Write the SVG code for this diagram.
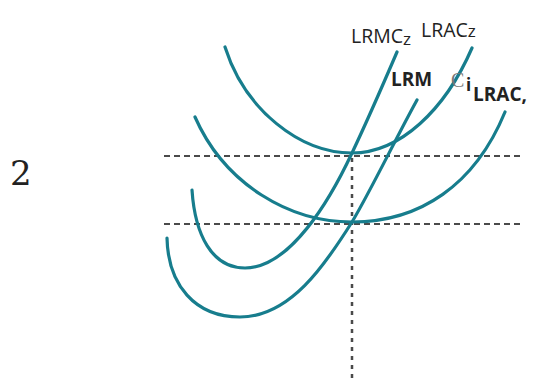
<svg xmlns="http://www.w3.org/2000/svg" width="546" height="382" viewBox="0 0 546 382">
<style>
.curve{fill:none;stroke:#177d8d;stroke-width:3.2;stroke-linecap:round}
.dash{fill:none;stroke:#4a4a4a;stroke-width:2;stroke-dasharray:6 4}
.vdash{fill:none;stroke:#4a4a4a;stroke-width:2.5;stroke-dasharray:4 5}
.lbl{font-family:"Open Sans","Noto Sans",sans-serif;fill:#222}
.b{font-weight:bold}
</style>
<rect width="546" height="382" fill="#fff"/>
<g id="guides">
<line class="dash" x1="164" y1="156" x2="524" y2="156"/>
<line class="dash" x1="164" y1="224" x2="524" y2="224"/>
<line class="vdash" x1="352" y1="158" x2="352" y2="382"/>
</g>
<g id="LRAC2"><path class="curve" d="M225,47 C245,110 300,153 352,153 C400,153 445,110 472,48"/></g>
<g id="LRAC1"><path class="curve" d="M195,117 C225,185 290,222 352,222 C420,222 475,185 505,112"/></g>
<g id="LRMC2"><path class="curve" d="M192,190 C195,235 212,268 245,268 C290,268 330,200 352,153 C370,115 385,80 397,52"/></g>
<g id="LRMC1"><path class="curve" d="M167,238 C168,285 195,317 240,317 C290,317 325,265 352,222 C370,192 395,140 417,100"/></g>
<g id="labels">
<text class="lbl" x="351" y="43" font-size="19.5">LRMC<tspan font-size="17" dy="2">z</tspan></text>
<text class="lbl" x="421" y="37" font-size="19.5">LRAC<tspan font-size="17">z</tspan></text>
<text class="lbl b" x="391" y="86" font-size="19">LRM</text>
<text x="451" y="87" font-size="20" font-family="Liberation Serif,serif" fill="#777">C</text>
<text class="lbl b" x="466" y="91" font-size="17">i</text>
<text class="lbl b" x="473" y="101" font-size="19">LRAC,</text>
<text x="10" y="185" font-size="34" font-family="DejaVu Serif,serif" fill="#222">2</text>
</g>
</svg>
